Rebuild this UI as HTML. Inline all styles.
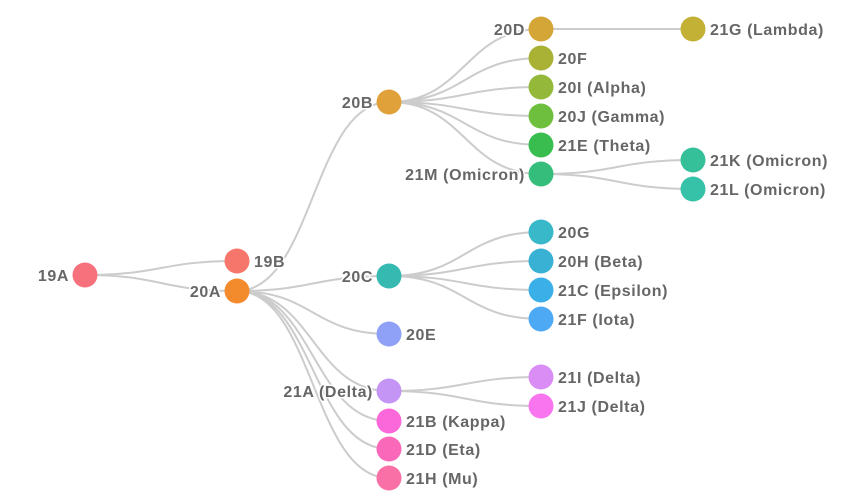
<!DOCTYPE html>
<html><head><meta charset="utf-8"><style>
html,body{margin:0;padding:0;background:#fff;}
svg text{font-family:"Liberation Sans",sans-serif;font-weight:bold;font-size:16px;letter-spacing:0.6px;fill:#666;paint-order:stroke;stroke:#fff;stroke-width:3px;}
</style></head><body>
<svg width="865" height="494" xmlns="http://www.w3.org/2000/svg">
<g fill="none" stroke="#ccc" stroke-width="2">
<path id="links"/>
</g>
<g id="g"></g>
</svg>
<script>
var N={
'19A':[85,275,'#f7717d','L'],'19B':[237,261,'#f7766b','R'],'20A':[237,291,'#f38b2d','L'],
'20B':[389,102,'#e0a13a','L'],'20C':[389,276,'#35b9b0','L'],'20E':[389,334,'#8fa0f7','R'],
'21A':[389,391,'#c595f5','L'],'21B':[389,421,'#fa68d9','R'],'21D':[389,449,'#fa68b9','R'],'21H':[389,478,'#f870a5','R'],
'20D':[541,29,'#d4a637','L'],'20F':[541,58,'#aab235','R'],'20I':[541,87,'#94b93a','R'],'20J':[541,116,'#6fbf3e','R'],
'21E':[541,145,'#39bd4f','R'],'21M':[541,174,'#35bd7b','L'],'21G':[693,29,'#c2b134','R'],
'21K':[693,160,'#35c09a','R'],'21L':[693,189,'#36c2a8','R'],
'20G':[541,232,'#38b8c8','R'],'20H':[541,261,'#38b1d4','R'],'21C':[541,290,'#3bb0e8','R'],'21F':[541,319,'#4ea9f5','R'],
'21I':[541,377,'#d98df5','R'],'21J':[541,406,'#f975f0','R']};
var lab={'20I':'20I (Alpha)','20J':'20J (Gamma)','21E':'21E (Theta)','21M':'21M (Omicron)','21G':'21G (Lambda)',
'21K':'21K (Omicron)','21L':'21L (Omicron)','20H':'20H (Beta)','21C':'21C (Epsilon)','21F':'21F (Iota)',
'21A':'21A (Delta)','21B':'21B (Kappa)','21D':'21D (Eta)','21H':'21H (Mu)','21I':'21I (Delta)','21J':'21J (Delta)'};
var E=[['19A','19B'],['19A','20A'],['20A','20B'],['20A','20C'],['20A','20E'],['20A','21A'],['20A','21B'],['20A','21D'],['20A','21H'],
['20B','20D'],['20B','20F'],['20B','20I'],['20B','20J'],['20B','21E'],['20B','21M'],['20D','21G'],['21M','21K'],['21M','21L'],
['20C','20G'],['20C','20H'],['20C','21C'],['20C','21F'],['21A','21I'],['21A','21J']];
var d='';E.forEach(function(e){var a=N[e[0]],b=N[e[1]],m=(a[0]+b[0])/2;d+='M'+a[0]+','+a[1]+'C'+m+','+a[1]+' '+m+','+b[1]+' '+b[0]+','+b[1];});
document.getElementById('links').setAttribute('d',d);
var s='';for(var k in N){var n=N[k];s+='<circle cx="'+n[0]+'" cy="'+n[1]+'" r="12.5" fill="'+n[2]+'"/>';
var t=lab[k]||k;if(n[3]=='L')s+='<text x="'+(n[0]-16)+'" y="'+(n[1]+6)+'" text-anchor="end">'+t+'</text>';
else s+='<text x="'+(n[0]+17)+'" y="'+(n[1]+6)+'">'+t+'</text>';}
document.getElementById('g').innerHTML=s;
</script>
</body></html>
